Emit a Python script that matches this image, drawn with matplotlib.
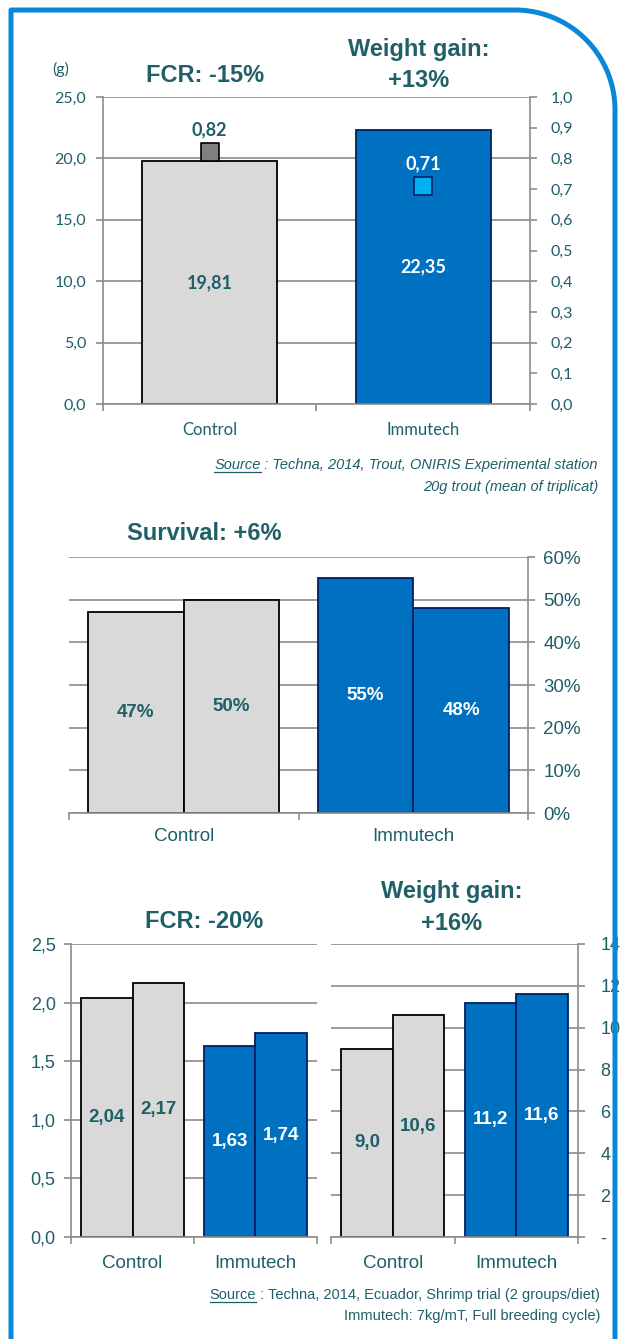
import matplotlib
matplotlib.use('Agg')
import matplotlib.pyplot as plt
import numpy as np
from matplotlib.transforms import Affine2D
from matplotlib.lines import Line2D

# trout trial
trout_groups = ['Control', 'Immutech']
trout_weight = [19.81, 22.35]
trout_fcr = [0.82, 0.71]
trout_wt_ticks = [0, 5, 10, 15, 20, 25]
trout_wt_labels = ['0,0', '5,0', '10,0', '15,0', '20,0', '25,0']
trout_fcr_ticks = [0.0, 0.1, 0.2, 0.3, 0.4, 0.5, 0.6, 0.7, 0.8, 0.9, 1.0]
trout_fcr_labels = ['0,0', '0,1', '0,2', '0,3', '0,4', '0,5', '0,6', '0,7', '0,8', '0,9', '1,0']

# survival
surv_groups = ['Control', 'Immutech']
surv_rep1 = [47, 55]
surv_rep2 = [50, 48]
surv_ticks = [0, 10, 20, 30, 40, 50, 60]
surv_labels = ['0%', '10%', '20%', '30%', '40%', '50%', '60%']

# shrimp trial
shrimp_groups = ['Control', 'Immutech']
shrimp_fcr_1 = [2.04, 1.63]
shrimp_fcr_2 = [2.17, 1.74]
shrimp_fcr_ticks = [0, 0.5, 1.0, 1.5, 2.0, 2.5]
shrimp_fcr_labels = ['0,0', '0,5', '1,0', '1,5', '2,0', '2,5']
shrimp_wg_1 = [9.0, 11.2]
shrimp_wg_2 = [10.6, 11.6]
shrimp_wg_ticks = [0, 2, 4, 6, 8, 10, 12, 14]
shrimp_wg_labels = ['-', '2', '4', '6', '8', '10', '12', '14']

W, H = 621, 1339
TEAL = '#1E5F68'
GRID = '#8C8C8C'
GREY_BAR = '#D9D9D9'
BLUE_BAR = '#0070C0'
NAVY = '#002060'
BORDER = '#0A88D8'
fill = [GREY_BAR, BLUE_BAR]
edge = ['black', NAVY]
txtc = [TEAL, 'white']

plt.rcParams['font.family'] = ['Liberation Sans', 'DejaVu Sans']

fig = plt.figure(figsize=(W / 100, H / 100), dpi=100)
px = Affine2D().scale(1, -1).translate(0, H)  # pixel coords, origin top-left


def axes_px(x0, y0, x1, y1):
    return fig.add_axes([x0 / W, 1 - y1 / H, (x1 - x0) / W, (y1 - y0) / H])


def fmt(v, nd):
    return f'{v:.{nd}f}'.replace('.', ',')


def base_axes(ax, ymax, left, right):
    ax.set_xlim(-0.5, 1.5)
    ax.set_ylim(0, ymax)
    ax.set_axisbelow(True)
    ax.yaxis.grid(True, color=GRID, lw=1.2)
    ax.spines['top'].set_visible(False)
    ax.spines['left'].set_visible(left)
    ax.spines['right'].set_visible(right)
    for s in ['left', 'right', 'bottom']:
        ax.spines[s].set_color(GRID)
        ax.spines[s].set_linewidth(1.2)
    ax.set_xticks([-0.5, 0.5, 1.5], minor=True)
    ax.tick_params(axis='x', which='minor', length=5, width=1.2, color=GRID, direction='out')
    ax.tick_params(axis='y', which='both', length=5, width=1.2, color=GRID, direction='out',
                   labelcolor=TEAL)
    ax.tick_params(axis='x', which='major', length=0, labelcolor=TEAL)


def title(x, y, s):
    fig.text(x, y, s, transform=px, ha='center', va='baseline', fontsize=17,
             fontweight='bold', color=TEAL)


# ---------- chart 1: trout ----------
x = np.arange(2)
ax1 = axes_px(103, 97, 530, 404)
base_axes(ax1, 25, True, False)
ax1.bar(x, trout_weight, width=0.63, color=fill, edgecolor=edge, linewidth=1.3, zorder=2)
ax1.set_yticks(trout_wt_ticks, trout_wt_labels)
ax1.tick_params(axis='y', labelsize=11.5, pad=7)
ax1.set_xticks(x, trout_groups)
ax1.tick_params(axis='x', which='major', labelsize=12, pad=13)
for lab in ax1.get_xticklabels() + ax1.get_yticklabels():
    lab.set_fontfamily('Lato')
for i, v in enumerate(trout_weight):
    ax1.text(i, v / 2, fmt(v, 2), ha='center', va='center', color=txtc[i], fontsize=13,
             fontweight='bold', family='Lato', zorder=3)

ax1r = ax1.twinx()
ax1r.set_ylim(0, 1)
for s in ['top', 'left', 'bottom']:
    ax1r.spines[s].set_visible(False)
ax1r.spines['right'].set_color(GRID)
ax1r.spines['right'].set_linewidth(1.2)
ax1r.set_yticks(trout_fcr_ticks, trout_fcr_labels)
ax1r.tick_params(axis='y', length=5, width=1.2, color=GRID, labelcolor=TEAL, labelsize=11.5, pad=10)
for lab in ax1r.get_yticklabels():
    lab.set_fontfamily('Lato')
ax1r.scatter(x, trout_fcr, marker='s', s=165, c=['#7F7F7F', '#00B0F0'], edgecolors=['black', NAVY],
             linewidths=1.2, zorder=4)
for i, v in enumerate(trout_fcr):
    ax1r.annotate(fmt(v, 2), (i, v), xytext=(0, 16), textcoords='offset points', ha='center',
                  va='center', color=txtc[i], fontsize=13, fontweight='bold', family='Lato')

fig.text(61, 69, '(g)', transform=px, ha='center', va='center', fontsize=11.5, color=TEAL,
         family='Lato')
title(205, 82, 'FCR: -15%')
title(419, 56, 'Weight gain:')
title(419, 87, '+13%')

# ---------- chart 2: survival ----------
w = 0.417
ax2 = axes_px(69, 557, 528, 813)
base_axes(ax2, 60, False, True)
ax2.yaxis.tick_right()
ax2.bar(x - w / 2, surv_rep1, width=w, color=fill, edgecolor=edge, linewidth=1.3, zorder=2)
ax2.bar(x + w / 2, surv_rep2, width=w, color=fill, edgecolor=edge, linewidth=1.3, zorder=2)
ax2.set_yticks(surv_ticks, surv_labels)
ax2.tick_params(axis='y', labelsize=13.5, pad=6)
ax2.set_xticks(x, surv_groups)
ax2.tick_params(axis='x', which='major', labelsize=13.5, pad=11)
for i in range(2):
    ax2.text(i - w / 2, surv_rep1[i] / 2, f'{surv_rep1[i]}%', ha='center', va='center',
             color=txtc[i], fontsize=13.5, fontweight='bold')
    ax2.text(i + w / 2, surv_rep2[i] / 2, f'{surv_rep2[i]}%', ha='center', va='center',
             color=txtc[i], fontsize=13.5, fontweight='bold')
title(204, 540, 'Survival: +6%')

# ---------- chart 3: shrimp FCR ----------
ax3 = axes_px(71, 944, 317, 1237)
base_axes(ax3, 2.5, True, False)
ax3.bar(x - w / 2, shrimp_fcr_1, width=w, color=fill, edgecolor=edge, linewidth=1.3, zorder=2)
ax3.bar(x + w / 2, shrimp_fcr_2, width=w, color=fill, edgecolor=edge, linewidth=1.3, zorder=2)
ax3.set_yticks(shrimp_fcr_ticks, shrimp_fcr_labels)
ax3.tick_params(axis='y', labelsize=13, pad=6)
ax3.set_xticks(x, shrimp_groups)
ax3.tick_params(axis='x', which='major', labelsize=13.5, pad=13)
for i in range(2):
    ax3.text(i - w / 2, shrimp_fcr_1[i] / 2, fmt(shrimp_fcr_1[i], 2), ha='center', va='center',
             color=txtc[i], fontsize=13.5, fontweight='bold')
    ax3.text(i + w / 2, shrimp_fcr_2[i] / 2, fmt(shrimp_fcr_2[i], 2), ha='center', va='center',
             color=txtc[i], fontsize=13.5, fontweight='bold')
title(204, 928, 'FCR: -20%')

# ---------- chart 4: shrimp weight gain ----------
ax4 = axes_px(331, 944, 578, 1237)
base_axes(ax4, 14, False, True)
ax4.yaxis.tick_right()
ax4.bar(x - w / 2, shrimp_wg_1, width=w, color=fill, edgecolor=edge, linewidth=1.3, zorder=2)
ax4.bar(x + w / 2, shrimp_wg_2, width=w, color=fill, edgecolor=edge, linewidth=1.3, zorder=2)
ax4.set_yticks(shrimp_wg_ticks, shrimp_wg_labels)
ax4.tick_params(axis='y', labelsize=13, pad=11)
ax4.set_xticks(x, shrimp_groups)
ax4.tick_params(axis='x', which='major', labelsize=13.5, pad=13)
for i in range(2):
    ax4.text(i - w / 2, shrimp_wg_1[i] / 2, fmt(shrimp_wg_1[i], 1), ha='center', va='center',
             color=txtc[i], fontsize=13.5, fontweight='bold')
    ax4.text(i + w / 2, shrimp_wg_2[i] / 2, fmt(shrimp_wg_2[i], 1), ha='center', va='center',
             color=txtc[i], fontsize=13.5, fontweight='bold')
title(452, 898, 'Weight gain:')
title(452, 930, '+16%')

# ---------- sources ----------
renderer = fig.canvas.get_renderer()


def source(x_right, y1, y2, rest, line2, style, size):
    t = fig.text(x_right, y1, rest, transform=px, ha='right', va='baseline', color=TEAL,
                 fontsize=size, style=style)
    bb = t.get_window_extent(renderer)
    s = fig.text(bb.x0, y1, 'Source', transform=px, ha='right', va='baseline', color=TEAL,
                 fontsize=size, style=style)
    sb = s.get_window_extent(renderer)
    fig.add_artist(Line2D([sb.x0, sb.x1], [y1 + 2.5, y1 + 2.5], transform=px, color=TEAL, lw=0.9))
    fig.text(x_right, y2, line2, transform=px, ha='right', va='baseline', color=TEAL,
             fontsize=size, style=style)


source(598, 469, 491, ' : Techna, 2014, Trout, ONIRIS Experimental station',
       '20g trout (mean of triplicat)', 'italic', 10.5)
source(600, 1299, 1320, ' : Techna, 2014, Ecuador, Shrimp trial (2 groups/diet)',
       'Immutech: 7kg/mT, Full breeding cycle)', 'normal', 10.5)

# ---------- frame ----------
t = np.linspace(np.pi / 2, 0, 40)
bx = np.concatenate([[11, 11], 515 + 100 * np.cos(t), [615]])
by = np.concatenate([[1360, 10], 110 - 100 * np.sin(t), [1360]])
fig.add_artist(Line2D(bx, by, transform=px, color=BORDER, lw=3.6, zorder=10,
                      solid_joinstyle='round'))

fig.savefig('out.png', dpi=100)
